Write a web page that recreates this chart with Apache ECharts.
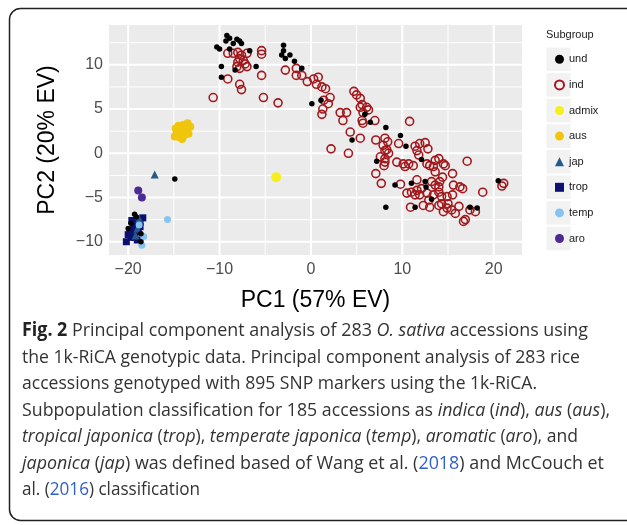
<!DOCTYPE html>
<html><head><meta charset="utf-8">
<script src="https://cdn.jsdelivr.net/npm/echarts@6/dist/echarts.min.js"></script>
<style>html,body{margin:0;padding:0;background:#fff}#c{width:627px;height:525px}</style>
</head><body><div id="c"></div>
<script>
// ---- axis ticks ----
const xTicks = [-20, -10, 0, 10, 20];
const xMinor = [-15, -5, 5, 15];
const yTicks = [-10, -5, 0, 5, 10];
const yMinor = [-7.5, -2.5, 2.5, 7.5, 12.5];
const xRange = [-22.1, 23.1];
const yRange = [-11.5, 14.5];

// ---- legend categories ----
const subgroups = ['und', 'ind', 'admix', 'aus', 'jap', 'trop', 'temp', 'aro'];

// ---- data (PC1, PC2) ----
const und = [[-9.2,13.3],[-8.9,13.0],[-9.3,12.7],[-8.1,12.9],[-7.8,12.7],[-7.6,12.4],[-8.5,12.4],[-10.3,12.0],[-10.0,11.8],[-8.9,11.8],[-6.7,11.6],[-9.8,9.8],[-9.8,8.6],[-6.0,9.8],[-8.3,9.4],[-3.0,12.2],[-3.0,11.6],[-3.2,11.1],[-2.8,10.7],[-2.3,11.1],[-1.8,10.4],[-1.0,9.6],[0.1,5.6],[1.1,6.0],[5.9,4.4],[6.5,3.5],[8.2,2.9],[4.5,1.5],[7.2,-0.9],[9.8,2.0],[10.4,0.8],[12.1,-0.7],[9.2,-3.6],[8.2,-6.1],[11.4,-6.1],[12.5,-3.2],[11.0,-3.4],[13.2,-5.2],[17.4,-6.1],[18.2,-6.2],[20.5,-3.1],[12.6,-3.8],[-14.9,-2.9],[-19.3,-6.9],[-19.1,-7.2],[-20.0,-8.5],[-18.6,-9.1],[-18.6,-10.0],[-19.7,-7.9]];
const ind = [[-9.1,11.3],[-8.5,11.3],[-8.0,11.4],[-7.6,11.1],[-7.0,11.3],[-7.8,10.7],[-7.4,10.5],[-8.0,10.3],[-7.2,10.1],[-8.1,9.8],[-7.8,9.6],[-7.0,9.8],[-5.4,11.6],[-5.4,11.2],[-5.4,8.8],[-9.1,8.4],[-7.8,7.8],[-7.6,7.2],[-10.7,6.3],[-5.2,6.3],[-3.6,5.7],[-2.8,9.4],[-1.6,9.6],[-1.6,8.8],[-1.0,8.8],[-0.4,8.1],
[0.3,8.4],[0.8,8.6],[0.6,7.8],[1.2,7.5],[1.6,7.3],[1.4,6.0],[2.1,6.3],[1.9,5.6],[1.3,5.0],[1.2,4.4],[4.7,7.0],[5.0,6.6],[5.4,6.2],[5.6,5.5],[6.1,5.2],[5.4,5.2],[3.2,4.6],[3.9,4.6],[3.5,3.7],[5.7,4.6],[6.3,4.9],[7.0,3.7],[5.6,3.7],[10.8,3.6],
[2.2,0.5],[4.1,0.0],[4.3,2.4],[5.4,1.7],[7.1,1.5],[8.1,1.7],[7.9,0.9],[8.3,0.4],[7.6,-0.4],[8.0,-1.4],[7.1,-2.3],[5.7,3.4],
[8.4,1.3],[9.6,1.1],[8.1,0.3],[8.5,0.0],[8.1,-1.0],[11.4,0.8],[11.9,1.1],[12.5,1.2],[12.8,0.5],[11.6,0.3],[11.8,-0.2],[9.4,-1.0],[10.1,-1.2],[10.7,-1.2],[11.2,-1.4],[12.7,-1.2],[13.6,-0.8],[13.0,-1.4],[14.5,-1.2],[17.1,-0.9],
[8.1,-0.6],[10.3,-1.5],[14.0,-0.6],[14.7,-1.4],[13.4,-1.5],[13.6,-2.1],[15.5,-2.3],[7.7,-3.4],[9.8,-3.5],[10.5,-4.5],[11.0,-4.4],[11.6,-4.2],[11.4,-4.7],[11.9,-4.7],[11.6,-3.0],[12.1,-4.0],[12.7,-4.5],[13.2,-3.2],[13.6,-3.6],[14.0,-3.8],[14.1,-3.2],[14.4,-2.7],[14.0,-4.4],[13.4,-4.7],[14.3,-4.9],[14.9,-4.9],[15.0,-5.7],[14.3,-5.7],[14.0,-5.9],[13.0,-6.1],[12.3,-5.9],[10.9,-6.1],[15.4,-6.4],[15.8,-6.8],[16.2,-6.0],[16.3,-3.8],[16.6,-4.0],[15.6,-3.6],[18.8,-4.4],[21.1,-3.4],[20.9,-3.7],[16.7,-7.7],[16.9,-7.5],[17.4,-6.4],[18.0,-6.6],[15.5,-4.7],[14.9,-6.2],[14.5,-6.6],[12.9,-5.3]];
const admix = [[-3.8,-2.7]];
const aus = [[-14.8,2.8],[-14.5,3.1],[-14.0,3.2],[-13.5,3.4],[-13.2,3.0],[-13.6,2.6],[-14.2,2.4],[-14.7,2.2],[-14.9,1.9],[-14.4,1.8],[-13.9,2.0],[-13.4,2.2],[-14.1,1.6],[-13.8,2.8],[-14.6,2.6]];
const jap = [[-17.1,-2.4],[-19.0,-8.5],[-19.2,-9.3],[-18.8,-7.4]];
const trop = [[-19.8,-8.9],[-19.5,-8.7],[-19.1,-7.9],[-18.7,-7.8],[-20.2,-10.0],[-19.7,-9.5],[-19.3,-9.5],[-18.9,-8.9],[-18.7,-8.3],[-19.4,-8.2],[-19.6,-7.6],[-19.0,-9.8],[-18.4,-7.3],[-20.0,-9.2]];
const temp = [[-15.7,-7.5],[-18.5,-10.4],[-18.3,-9.4],[-18.8,-8.1]];
const aro = [[-18.9,-4.2],[-18.5,-5.0]];

// ---- caption ----
const captionLines = [
  '{b|Fig. 2} Principal component analysis of 283 {i|O. sativa} accessions using',
  'the 1k-RiCA genotypic data. Principal component analysis of 283 rice',
  'accessions genotyped with 895 SNP markers using the 1k-RiCA.',
  'Subpopulation classification for 185 accessions as {i|indica} ({i|ind}), {i|aus} ({i|aus}),',
  '{i|tropical japonica} ({i|trop}), {i|temperate japonica} ({i|temp}), {i|aromatic} ({i|aro}), and',
  '{i|japonica} ({i|jap}) was defined based of Wang et al. ({a|2018}) and McCouch et',
  'al. ({a|2016}) classification'
];
const captionRight = [588, 580, 537, 610, 578, 604, 200];

const chart = echarts.init(document.getElementById('c'), null, {renderer: 'canvas'});

const minus = v => (v < 0 ? '\u2212' + Math.abs(v) : String(v));
const capFont = '"Open Sans", "Noto Sans", sans-serif';
const capSize = 19;

const ctx = document.createElement('canvas').getContext('2d');
function measure(line) {
  let w = 0; const re = /\{(\w)\|([^}]*)\}|([^{]+)/g; let m;
  while ((m = re.exec(line))) {
    let st = 'normal', wt = 'normal', txt;
    if (m[1]) { txt = m[2]; if (m[1] === 'i') st = 'italic'; if (m[1] === 'b') wt = 'bold'; } else txt = m[3];
    ctx.font = st + ' ' + wt + ' ' + capSize + 'px ' + capFont;
    w += ctx.measureText(txt).width;
  }
  return w;
}
const capLeft = 22, capTop = 331, capStep = 26.5;
const rich = {
  b: {fontWeight: 'bold', fontSize: capSize, fontFamily: capFont, fill: '#222'},
  i: {fontStyle: 'italic', fontSize: capSize, fontFamily: capFont, fill: '#333'},
  a: {fontSize: capSize, fontFamily: capFont, fill: '#2f5fc8'}
};
const captionGraphics = captionLines.map((t, k) => ({
  type: 'text', x: capLeft, y: capTop + k * capStep,
  scaleX: (captionRight[k] - capLeft) / measure(t),
  silent: true,
  style: {text: t, x: 0, y: 0, fontSize: capSize, fontFamily: capFont, fill: '#333', verticalAlign: 'middle', rich: rich}
}));

const legendRows = subgroups.map((s, k) => 59.3 + k * 25.6);
const keyBoxes = legendRows.map(c => ({
  type: 'rect', silent: true, z: -1,
  shape: {x: 546, y: c - 12.3, width: 25, height: 24.6},
  style: {fill: '#f2f2f2', stroke: '#fff', lineWidth: 1}
}));

// panel grid lines, placed through the axes' own scales
function gridSeries(vals, dir, width) {
  return vals.map(v => ({
    name: '_grid', type: 'line', silent: true, z: 2, symbol: 'none', animation: false,
    data: dir === 'x' ? [[v, yRange[0]], [v, yRange[1]]] : [[xRange[0], v], [xRange[1], v]],
    lineStyle: {color: '#ffffff', width: width, opacity: 1},
    itemStyle: {color: '#ffffff'},
    emphasis: {disabled: true}, tooltip: {show: false}
  }));
}
const gridLineSeries = [].concat(
  gridSeries(xMinor, 'x', 1), gridSeries(yMinor, 'y', 1),
  gridSeries(xTicks, 'x', 2), gridSeries(yTicks, 'y', 2)
);

const styles = {
  und:   {symbol: 'circle', size: 5.5, color: '#000000'},
  ind:   {symbol: 'circle', size: 8, color: 'rgba(255,255,255,0)', border: '#a3181c', bw: 1.6},
  admix: {symbol: 'circle', size: 10, color: '#f6ee1e'},
  aus:   {symbol: 'circle', size: 8, color: '#f0c60c'},
  jap:   {symbol: 'triangle', size: 8, color: '#24598a'},
  trop:  {symbol: 'rect', size: 7, color: '#0c1070'},
  temp:  {symbol: 'circle', size: 7, color: '#85c4f0'},
  aro:   {symbol: 'circle', size: 8, color: '#4b2a96'}
};
const dataMap = {und, ind, admix, aus, jap, trop, temp, aro};
const drawOrder = ['trop', 'jap', 'temp', 'aro', 'aus', 'admix', 'ind', 'und'];

const scatterSeries = drawOrder.map((n, k) => {
  const s = styles[n];
  return {
    name: n, type: 'scatter', data: dataMap[n], symbol: s.symbol, symbolSize: s.size,
    z: 10 + k,
    itemStyle: {color: s.color, borderColor: s.border || s.color, borderWidth: s.bw || 0, opacity: 1},
    emphasis: {disabled: true}
  };
});

const option = {
  animation: false,
  backgroundColor: '#fff',
  grid: {left: 109, top: 25, width: 413, height: 230, show: true, backgroundColor: '#ebebeb', borderWidth: 0, containLabel: false, outerBoundsMode: 'none'},
  xAxis: {
    type: 'value', min: xRange[0], max: xRange[1],
    name: 'PC1 (57% EV)', nameLocation: 'middle', nameGap: 34,
    nameTextStyle: {fontFamily: '"Liberation Sans", Arial, sans-serif', fontSize: 23, color: '#000'},
    axisLine: {show: false},
    axisTick: {show: true, customValues: xTicks, length: 3, lineStyle: {color: '#333', width: 1}},
    axisLabel: {customValues: xTicks, formatter: minus, margin: 7, fontFamily: '"Liberation Sans", Arial, sans-serif', fontSize: 16, color: '#4d4d4d'},
    splitLine: {show: false}
  },
  yAxis: {
    type: 'value', min: yRange[0], max: yRange[1],
    name: 'PC2 (20% EV)', nameLocation: 'middle', nameGap: 50, nameRotate: 90,
    nameTextStyle: {fontFamily: '"Liberation Sans", Arial, sans-serif', fontSize: 23, color: '#000'},
    axisLine: {show: false},
    axisTick: {show: true, customValues: yTicks, length: 3, lineStyle: {color: '#333', width: 1}},
    axisLabel: {customValues: yTicks, formatter: minus, margin: 6, fontFamily: '"Liberation Sans", Arial, sans-serif', fontSize: 16, color: '#4d4d4d'},
    splitLine: {show: false}
  },
  legend: {
    data: subgroups, orient: 'vertical', left: 549, top: 47.3,
    itemWidth: 9, itemHeight: 9, itemGap: 11.6,
    textStyle: {fontFamily: '"Liberation Sans", Arial, sans-serif', fontSize: 11, color: '#1a1a1a', lineHeight: 14},
    selectedMode: false
  },
  graphic: [
    {type: 'rect', silent: true, z: -2, shape: {x: 9.5, y: 8.5, width: 640, height: 512, r: 11}, style: {fill: 'none', stroke: '#222', lineWidth: 1.5}},
    {type: 'text', silent: true, x: 546, y: 35, style: {text: 'Subgroup', fontFamily: '"Liberation Sans", Arial, sans-serif', fontSize: 11, fill: '#1a1a1a', verticalAlign: 'middle'}}
  ].concat(keyBoxes, captionGraphics),
  series: gridLineSeries.concat(scatterSeries)
};
chart.setOption(option);
</script></body></html>
